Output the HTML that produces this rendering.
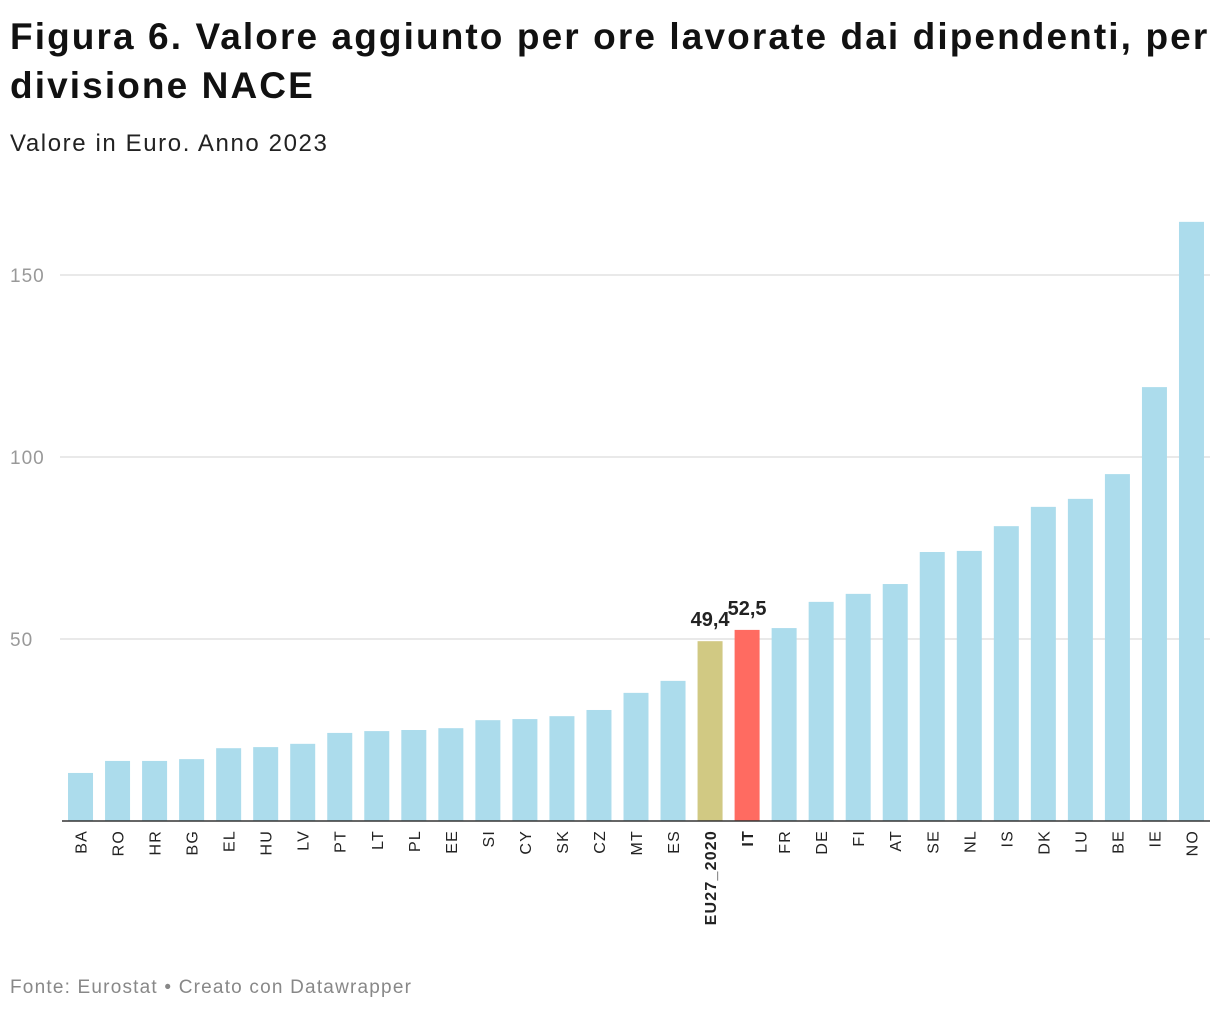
<!DOCTYPE html>
<html><head><meta charset="utf-8">
<style>
body{margin:0;background:#fff;font-family:"Liberation Sans",sans-serif;}
#wrap{position:relative;width:1220px;height:1014px;overflow:hidden;}
h1{position:absolute;left:10px;top:12px;margin:0;font-size:37px;line-height:49px;font-weight:bold;color:#111;letter-spacing:2.1px;}
#sub{position:absolute;left:10px;top:130px;font-size:24px;color:#222;letter-spacing:1.6px;}
#foot{position:absolute;left:10px;top:977px;font-size:19px;color:#888;letter-spacing:1.2px;}
</style></head><body>
<div id="wrap">
<h1>Figura 6. Valore aggiunto per ore lavorate dai dipendenti, per<br>divisione NACE</h1>
<div id="sub">Valore in Euro. Anno 2023</div>
<svg id="chart" width="1220" height="1014" style="position:absolute;left:0;top:0"></svg>
<div id="foot">Fonte: Eurostat • Creato con Datawrapper</div>
</div>
<script>
const categories=["BA","RO","HR","BG","EL","HU","LV","PT","LT","PL","EE","SI","CY","SK","CZ","MT","ES","EU27_2020","IT","FR","DE","FI","AT","SE","NL","IS","DK","LU","BE","IE","NO"];
const values=[13.2,16.5,16.5,17,20,20.3,21.2,24.2,24.7,25,25.5,27.7,28,28.8,30.5,35.2,38.5,49.4,52.5,53,60.2,62.4,65.1,73.9,74.2,81,86.3,88.5,95.3,119.2,164.6];
const yTicks=[50,100,150];
const highlighted={"EU27_2020":{color:"#d1c983",label:"49,4"},"IT":{color:"#ff6b61",label:"52,5"}};
const svg=document.getElementById('chart');
const NS="http://www.w3.org/2000/svg";
const x0=62,x1=1210,y0=821,pxPer=3.64;
const step=(x1-x0)/categories.length,bw=25;
const y=v=>y0-v*pxPer;
const xc=i=>x0+step*i+step/2;
function mk(t,a){const e=document.createElementNS(NS,t);for(const k in a)e.setAttribute(k,a[k]);svg.appendChild(e);return e;}
yTicks.forEach(t=>{
 const g=mk('line',{x1:60,x2:x1,y1:y(t),y2:y(t),stroke:'#e2e2e2','stroke-width':1.5});
 
 
 const tx=mk('text',{x:10,y:y(t)+7,'font-size':19,fill:'#999','letter-spacing':1});tx.textContent=t;
 
 
});
categories.forEach((c,i)=>{
 const h=highlighted[c];
 const r=mk('rect',{x:xc(i)-bw/2,y:y(values[i]),width:bw,height:values[i]*pxPer,fill:h?h.color:'#acdcec'});
 
 
 const t=mk('text',{transform:`translate(${xc(i)+6},830) rotate(-90)`,'text-anchor':'end','font-size':16,'letter-spacing':1.2,fill:'#222','font-weight':h?'bold':'normal'});t.textContent=c;
 
 
 if(h){const l=mk('text',{x:xc(i),y:y(values[i])-15,'text-anchor':'middle','font-size':20,'font-weight':'bold',fill:'#222'});l.textContent=h.label;
 
 }
});
const ax=mk('line',{x1:x0,x2:x1,y1:y0,y2:y0,stroke:'#333','stroke-width':1.5});


</script>
</body></html>
